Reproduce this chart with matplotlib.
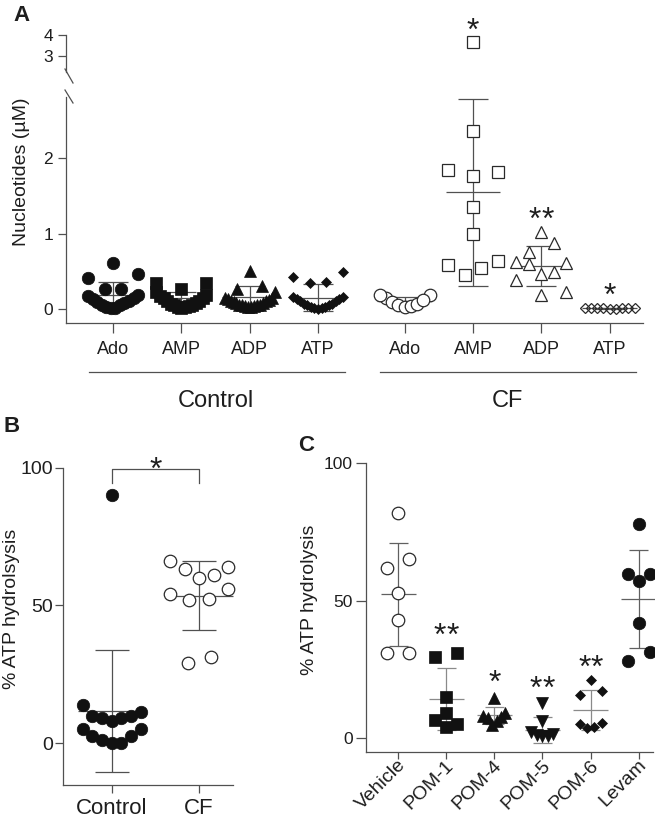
import numpy as np
import matplotlib
matplotlib.use('Agg')
import matplotlib.pyplot as plt
from matplotlib.lines import Line2D
import matplotlib.transforms as mtransforms

plt.rcParams['font.family'] = ['Liberation Sans', 'DejaVu Sans']

# ---------------- data ----------------
# Panel A  (Nucleotides, uM)
a_categories = ['Ado', 'AMP', 'ADP', 'ATP']
a_groups = ['Control', 'CF']
ctrl_ado = [0.61, 0.46, 0.41, 0.26, 0.26, 0.18, 0.15, 0.11, 0.08, 0.05, 0.02,
            0.01, 0.03, 0.06, 0.09, 0.13, 0.17]
ctrl_amp = [0.35, 0.34, 0.26, 0.22, 0.18, 0.14, 0.11, 0.08, 0.06, 0.04, 0.03,
            0.02, 0.03, 0.05, 0.07, 0.10, 0.14, 0.17]
ctrl_adp = [0.51, 0.30, 0.27, 0.23, 0.15, 0.13, 0.11, 0.09, 0.08, 0.06, 0.05,
            0.04, 0.03, 0.03, 0.04, 0.05, 0.06, 0.08, 0.10, 0.12, 0.14]
ctrl_atp = [0.49, 0.43, 0.36, 0.34, 0.16, 0.13, 0.10, 0.07, 0.05, 0.03, 0.01,
            0.00, 0.01, 0.03, 0.05, 0.07, 0.10, 0.13, 0.16]
cf_ado = [0.19, 0.14, 0.09, 0.05, 0.03, 0.04, 0.07, 0.12, 0.19]
cf_amp = [3.68, 2.36, 1.84, 1.82, 1.76, 1.35, 0.99, 0.64, 0.59, 0.54, 0.45]
cf_adp = [1.02, 0.88, 0.76, 0.63, 0.61, 0.60, 0.49, 0.47, 0.39, 0.23, 0.19]
cf_atp = [0.02, 0.01, 0.01, 0.00, 0.01, 0.02, 0.01, 0.00, 0.01]
a_ctrl_mean = [0.185, 0.14, 0.16, 0.15]
a_ctrl_sd = [0.175, 0.08, 0.14, 0.18]
a_cf_mean = [0.11, 1.55, 0.57, 0.01]
a_cf_sd = [0.05, 1.24, 0.27, 0.005]
a_cf_stars = ['', '*', '**', '*']
a_cf_star_y = [None, 4.64, 1.30, 0.295]

# Panel B  (% ATP hydrolsysis)
b_categories = ['Control', 'CF']
b_control = [90, 14, 11.3, 10, 9, 8, 9, 10, 5, 2.7, 1.2, 0, 0, 2.7, 5]
b_cf = [66, 63.3, 60, 61, 64, 54.3, 52.1, 52.5, 56, 29.1, 31.1]
b_mean = [11.7, 53.6]
b_sd = [22.2, 12.4]
b_bracket_y = [94.5, 99.6]
b_star = '*'
b_star_y = 102.4

# Panel C  (% ATP hydrolysis)
c_categories = ['Vehicle', 'POM-1', 'POM-4', 'POM-5', 'POM-6', 'Levam']
c_vehicle = [82, 65, 62, 52.6, 43, 31, 31]
c_pom1 = [31, 29.5, 15, 9, 6.5, 5, 4]
c_pom4 = [14.5, 9, 8, 7.5, 7, 6, 4.5]
c_pom5 = [12.5, 6, 2, 1.5, 1, 0.5, 0.5]
c_pom6 = [21, 17, 15.5, 5.5, 5, 4, 3.5]
c_levam = [78, 59.5, 59.5, 57, 41.7, 31.3, 28]
c_mean = [52.3, 14.1, 8.2, 2.8, 10.1, 50.5]
c_sd = [18.8, 11.4, 3.1, 4.6, 7.3, 17.9]
c_stars = ['', '**', '*', '**', '**', '']
c_star_y = [None, 40.5, 23.5, 21.3, 28.9, None]

# ---------------- style ----------------
W_PX, H_PX = 655, 821
fig = plt.figure(figsize=(W_PX / 100, H_PX / 100), dpi=100)
LINE = '#505050'
TXT = '#1e1e1e'
BLACK = '#111111'
PT = 0.72  # points per pixel at dpi 100
STAR_FS = 23


def fax(l, t, r, b):
    return fig.add_axes([l / W_PX, 1 - b / H_PX, (r - l) / W_PX, (b - t) / H_PX])


def fx(x):
    return x / W_PX


def fy(y):
    return 1 - y / H_PX


def style(ax, ylabsize, xlabsize, ylen=8, xlen=8, ypad=3, xpad=4):
    for s in ['top', 'right']:
        ax.spines[s].set_visible(False)
    for s in ['left', 'bottom']:
        ax.spines[s].set_color(LINE)
        ax.spines[s].set_linewidth(0.9)
    ax.tick_params(axis='y', colors=LINE, labelcolor=TXT, width=0.9,
                   length=ylen * PT, pad=ypad * PT, labelsize=ylabsize)
    ax.tick_params(axis='x', colors=LINE, labelcolor=TXT, width=0.9,
                   length=xlen * PT, pad=xpad * PT, labelsize=xlabsize)
    ax.patch.set_alpha(0)


def row_x(xc, values, ax_of, ax_x, h, W, smax):
    """Scatter-dot layout: values grouped into rows, spread symmetrically."""
    vals = np.asarray(values, float)
    ys = np.array([ax_of(v).transData.transform((xc, v))[1] for v in vals])
    order = np.argsort(ys, kind='stable')
    offs = np.zeros(len(vals))
    i = 0
    while i < len(order):
        start = ys[order[i]]
        j = i
        while j < len(order) and ys[order[j]] - start < h:
            j += 1
        row = order[i:j]
        n = len(row)
        if n > 1:
            s = min(2 * W / (n - 1), smax)
            slots = (np.arange(n) - (n - 1) / 2) * s
            sgn = -1 if n % 2 else 1
            slot_order = sorted(range(n),
                                key=lambda k: (round(abs(slots[k]), 6), sgn * slots[k]))
            for idx, k in zip(row, slot_order):
                offs[idx] = slots[k]
        i = j
    x0 = ax_x.transData.transform((0, 0))[0]
    x1 = ax_x.transData.transform((1, 0))[0]
    return xc + offs / (x1 - x0)


def mean_sd(ax, x, m, s, hm, hc, color=LINE, lw=0.9):
    kw = dict(color=color, lw=lw, zorder=2, solid_capstyle='butt', clip_on=False)
    ax.plot([x - hm, x + hm], [m, m], **kw)
    ax.plot([x, x], [m - s, m + s], **kw)
    ax.plot([x - hc, x + hc], [m + s, m + s], **kw)
    ax.plot([x - hc, x + hc], [m - s, m - s], **kw)


def stars(ax, x, y, s, fs=STAR_FS, gap_px=12.5):
    n = len(s)
    for k in range(n):
        dx = (k - (n - 1) / 2) * gap_px * PT
        ax.annotate('*', (x, y), xytext=(dx, -0.57 * fs), textcoords='offset points',
                    ha='center', va='baseline', fontsize=fs, color=TXT,
                    annotation_clip=False)


def pts(ax, xs, ys, marker, ms, filled):
    if filled:
        ax.plot(xs, ys, ls='none', marker=marker, ms=ms, mfc=BLACK, mec=BLACK,
                mew=0.5, zorder=3, clip_on=False)
    else:
        fc = 'none' if marker == 'D' else 'white'
        ax.plot(xs, ys, ls='none', marker=marker, ms=ms, mfc=fc, mec='#2a2a2a',
                mew=0.9, zorder=3, clip_on=False)


MS = {'o': 9.0, 's': 8.4, '^': 8.8, 'v': 8.8, 'D': 5.6}

# ---------------- Panel A ----------------
axA = fax(66, 97, 643, 323)
A_TOP_PX_PER_UNIT = 20.7
axAt = fax(66, 35, 643, 35 + 1.8 * A_TOP_PX_PER_UNIT)
a_x_ctrl = np.arange(len(a_categories), dtype=float)
a_x_cf = np.arange(len(a_categories), dtype=float) + 4.27
a_xlim = (-0.69, 7.76)
A_BREAK = 2.81
axA.set_xlim(a_xlim)
axA.set_ylim(-0.185, A_BREAK)
axAt.set_xlim(a_xlim)
axAt.set_ylim(2.2, 4.0)
style(axA, 12.5, 13, ylen=8, xlen=10, ypad=5, xpad=8)
style(axAt, 12.5, 13, ylen=8, xlen=10, ypad=5, xpad=8)
axAt.spines['bottom'].set_visible(False)
axAt.set_xticks([])
axAt.set_yticks([3, 4])
axA.set_yticks([0, 1, 2])
axA.set_xticks(np.concatenate([a_x_ctrl, a_x_cf]))
axA.set_xticklabels(a_categories + a_categories)


def a_ax(v):
    return axAt if v > A_BREAK else axA


a_markers = ['o', 's', '^', 'D']
for series, xs, means, sds, filled in [
        ([ctrl_ado, ctrl_amp, ctrl_adp, ctrl_atp], a_x_ctrl, a_ctrl_mean, a_ctrl_sd, True),
        ([cf_ado, cf_amp, cf_adp, cf_atp], a_x_cf, a_cf_mean, a_cf_sd, False)]:
    for k, vals in enumerate(series):
        mk = a_markers[k]
        xx = row_x(xs[k], vals, a_ax, axA, 17, 25, 25)
        mean_sd(axA, xs[k], means[k], sds[k], 0.40, 0.22)
        lo = [(x, v) for x, v in zip(xx, vals) if v <= A_BREAK]
        hi = [(x, v) for x, v in zip(xx, vals) if v > A_BREAK]
        if lo:
            pts(axA, [p[0] for p in lo], [p[1] for p in lo], mk, MS[mk], filled)
        if hi:
            pts(axAt, [p[0] for p in hi], [p[1] for p in hi], mk, MS[mk], filled)

for k, s in enumerate(a_cf_stars):
    if s:
        y = a_cf_star_y[k]
        stars(a_ax(y), a_x_cf[k], y, s)

# axis break marks
for (x0, y0, x1, y1) in [(65, 69, 73, 83), (65, 90, 73, 103)]:
    fig.add_artist(Line2D([fx(x0), fx(x1)], [fy(y0), fy(y1)], color=LINE, lw=0.9))

# group underlines and labels
trA = mtransforms.blended_transform_factory(axA.transData, axA.transAxes)
for xs, name in [(a_x_ctrl, a_groups[0]), (a_x_cf, a_groups[1])]:
    axA.plot([xs[0] - 0.36, xs[-1] + 0.39], [-0.217, -0.217], color=LINE, lw=0.9,
             transform=trA, clip_on=False)
    axA.text(xs.mean(), -0.343, name, transform=trA, ha='center', va='center',
             fontsize=17, color=TXT)

fig.text(fx(22), fy(172), 'Nucleotides (\u00b5M)', rotation=90, ha='center',
         va='center', fontsize=14, color=TXT)
fig.text(fx(22), fy(15.5), 'A', ha='center', va='center', fontsize=16,
         fontweight='bold', color=TXT)

# ---------------- Panel B ----------------
axB = fax(63, 467.7, 233, 785)
axB.set_xlim(-0.56, 1.39)
axB.set_ylim(-15.2, 100)
style(axB, 14, 16, ylen=8, xlen=8, ypad=2, xpad=5)
axB.set_yticks([0, 50, 100])
b_x = np.arange(len(b_categories), dtype=float)
axB.set_xticks(b_x)
axB.set_xticklabels(b_categories)
for k, (vals, filled) in enumerate([(b_control, True), (b_cf, False)]):
    xx = row_x(b_x[k], vals, lambda v: axB, axB, 18, 29, 23)
    mean_sd(axB, b_x[k], b_mean[k], b_sd[k], 0.385, 0.195)
    pts(axB, xx, vals, 'o', MS['o'], filled)
axB.plot([b_x[0], b_x[0], b_x[1], b_x[1]],
         [b_bracket_y[0], b_bracket_y[1], b_bracket_y[1], b_bracket_y[0]],
         color=LINE, lw=0.9, clip_on=False)
stars(axB, b_x.mean(), b_star_y, b_star)
fig.text(fx(12), fy(609), '% ATP hydrolsysis', rotation=90, ha='center',
         va='center', fontsize=14, color=TXT)
fig.text(fx(11.5), fy(426), 'B', ha='center', va='center', fontsize=16,
         fontweight='bold', color=TXT)

# ---------------- Panel C ----------------
axC = fax(366, 463.3, 653, 751.7)
axC.set_xlim(-0.67, 5.3)
axC.set_ylim(-5.1, 100)
style(axC, 12.5, 14, ylen=10, xlen=7, ypad=3, xpad=2)
axC.set_yticks([0, 50, 100])
c_x = np.arange(len(c_categories), dtype=float)
axC.set_xticks(c_x)
axC.set_xticklabels(c_categories, rotation=45, ha='right', va='center',
                    rotation_mode='anchor')
shift = mtransforms.ScaledTranslation(5 / 100, -2 / 100, fig.dpi_scale_trans)
for lab in axC.get_xticklabels():
    lab.set_transform(lab.get_transform() + shift)
c_series = [c_vehicle, c_pom1, c_pom4, c_pom5, c_pom6, c_levam]
c_markers = ['o', 's', '^', 'v', 'D', 'o']
c_filled = [False, True, True, True, True, True]
for k, vals in enumerate(c_series):
    mk = c_markers[k]
    xx = row_x(c_x[k], vals, lambda v: axC, axC, 13, 11, 22)
    ecol = '#8a8a8a' if 0 < k < 5 else '#606060'
    mean_sd(axC, c_x[k], c_mean[k], c_sd[k], 0.36, 0.2, color=ecol)
    pts(axC, xx, vals, mk, MS[mk], c_filled[k])
    if c_stars[k]:
        stars(axC, c_x[k], c_star_y[k], c_stars[k])
fig.text(fx(309), fy(600), '% ATP hydrolysis', rotation=90, ha='center',
         va='center', fontsize=14, color=TXT)
fig.text(fx(306), fy(445), 'C', ha='center', va='center', fontsize=16,
         fontweight='bold', color=TXT)

fig.savefig('out.png', dpi=100)
